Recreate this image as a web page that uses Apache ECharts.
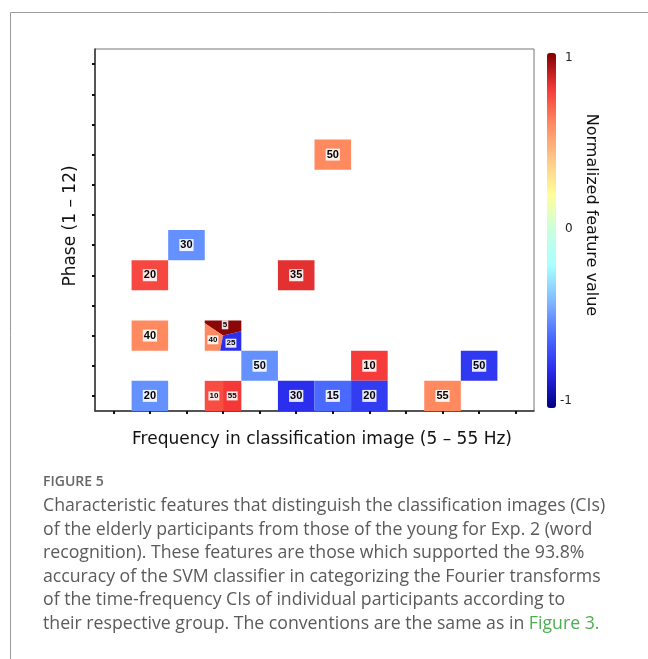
<!DOCTYPE html>
<html><head><meta charset="utf-8">
<script src="https://cdn.jsdelivr.net/npm/echarts/dist/echarts.min.js"></script>
<style>html,body{margin:0;padding:0;background:#fff}#c{width:648px;height:659px}</style>
</head><body><div id="c"></div>
<script>
// ---- data ----
const freqCats = ['1','2','3','4','5','6','7','8','9','10','11','12'];
const phaseCats = ['1','2','3','4','5','6','7','8','9','10','11','12'];
// cell positions (frequency column, phase row), 1-based
const cellCol = [7, 3, 2, 6, 2, 4, 5, 8, 11, 2, 4, 6, 7, 8, 10];
const cellRow = [9, 6, 5, 5, 3, 3, 2, 2, 2, 1, 1, 1, 1, 1, 1];
// normalized feature value for each part of each cell
const cellValues = [[0.6],[-0.5],[0.76],[0.83],[0.6],[0.98,0.6,-0.78],[-0.5],[0.79],[-0.75],[-0.5],[0.75,0.8],[-0.78],[-0.6],[-0.74],[0.6]];
const cellLabels = [['50'],['30'],['20'],['35'],['40'],['5','40','25'],['50'],['10'],['50'],['20'],['10','55'],['30'],['15'],['20'],['55']];
const colorbarTicks = ['1','0','-1'];
const captionTitle = 'FIGURE 5';
const captionLines = [
 'Characteristic features that distinguish the classification images (CIs)',
 'of the elderly participants from those of the young for Exp. 2 (word',
 'recognition). These features are those which supported the 93.8%',
 'accuracy of the SVM classifier in categorizing the Fourier transforms',
 'of the time-frequency CIs of individual participants according to',
 'their respective group. The conventions are the same as in '
];
const captionLink = 'Figure 3.';

// ---- build ----
const data = [];
cellCol.forEach((c, i) => {
  const vals = cellValues[i];
  vals.forEach((v, p) => data.push([c - 1, cellRow[i] - 1, v, cellLabels[i][p], p, vals.length]));
});

const wedges = [[13,146],[146,259],[259,373]];
function rayPt(cx, cy, hw, hh, deg) {
  const a = deg * Math.PI / 180, dx = Math.cos(a), dy = -Math.sin(a);
  const t = Math.min(Math.abs(dx) > 1e-9 ? hw / Math.abs(dx) : Infinity, Math.abs(dy) > 1e-9 ? hh / Math.abs(dy) : Infinity);
  return [cx + dx * t, cy + dy * t];
}
function wedgePoly(cx, cy, hw, hh, a0, a1) {
  const cA = Math.atan2(hh, hw) * 180 / Math.PI;
  const corners = [cA, 180 - cA, 180 + cA, 360 - cA];
  const angs = [];
  for (let k = -360; k <= 720; k += 360) corners.forEach(c => { const a = c + k; if (a > a0 && a < a1) angs.push(a); });
  angs.sort((x, y) => x - y);
  return [[cx, cy], rayPt(cx, cy, hw, hh, a0), ...angs.map(a => rayPt(cx, cy, hw, hh, a)), rayPt(cx, cy, hw, hh, a1)];
}

function renderItem(params, api) {
  const c = api.coord([api.value(0), api.value(1)]);
  const s = api.size([1, 1]);
  const w = s[0], h = s[1];
  const part = api.value(4), n = api.value(5);
  const color = api.visual('color');
  let shapeEl, lx = c[0], ly = c[1], font = 'bold 11px "Liberation Sans"';
  if (n === 1) {
    shapeEl = {type: 'rect', shape: {x: c[0] - w / 2, y: c[1] - h / 2, width: w, height: h}, style: {fill: color}};
  } else if (n === 2) {
    const x = c[0] - w / 2 + part * w / 2;
    shapeEl = {type: 'rect', shape: {x: x, y: c[1] - h / 2, width: w / 2, height: h}, style: {fill: color}};
    lx = x + w / 4; font = 'bold 8px "Liberation Sans"';
  } else {
    const [a0, a1] = wedges[part];
    shapeEl = {type: 'polygon', shape: {points: wedgePoly(c[0], c[1], w / 2, h / 2, a0, a1)}, style: {fill: color}};
    const mid = (a0 + a1) / 2 * Math.PI / 180, r = 0.3 * w;
    lx = c[0] + Math.cos(mid) * r; ly = c[1] - Math.sin(mid) * r;
    font = 'bold 8px "Liberation Sans"';
  }
  return {type: 'group', children: [shapeEl, {
    type: 'text', z2: 10,
    style: {text: api.value(3), x: lx, y: ly, align: 'center', verticalAlign: 'middle', fill: '#000', font: font,
      backgroundColor: 'rgba(255,255,255,0.88)', padding: [1, 1, 0, 1]}
  }]};
}

const chart = echarts.init(document.getElementById('c'), null, {renderer: 'canvas'});
const axisCommon = {
  type: 'category', boundaryGap: true,
  axisLabel: {show: false, interval: 0},
  axisTick: {show: true, interval: 0, alignWithLabel: true, length: 3, lineStyle: {color: '#111', width: 2}},
  axisLine: {lineStyle: {color: '#333', width: 1.5}},
  splitLine: {show: false}
};
const graphics = [
  {type: 'line', shape: {x1: 10.5, y1: 12.5, x2: 648, y2: 12.5}, style: {stroke: '#9a9a9a', lineWidth: 1}},
  {type: 'line', shape: {x1: 10.5, y1: 12.5, x2: 10.5, y2: 659}, style: {stroke: '#9a9a9a', lineWidth: 1}},
  {type: 'text', x: 322, y: 440, style: {text: 'Frequency in classification image (5 \u2013 55 Hz)', align: 'center', verticalAlign: 'middle', font: '17px "DejaVu Sans"', fill: '#111'}},
  {type: 'text', x: 71, y: 226, rotation: Math.PI / 2, style: {text: 'Phase (1 \u2013 12)', align: 'center', verticalAlign: 'middle', font: '17px "DejaVu Sans"', fill: '#111'}},
  {type: 'text', x: 591, y: 215, rotation: -Math.PI / 2, style: {text: 'Normalized feature value', align: 'center', verticalAlign: 'middle', font: '16px "DejaVu Sans"', fill: '#111'}},
  {type: 'text', x: 565, y: 58, style: {text: colorbarTicks[0], align: 'left', verticalAlign: 'middle', font: '12px "DejaVu Sans"', fill: '#222'}},
  {type: 'text', x: 565, y: 229, style: {text: colorbarTicks[1], align: 'left', verticalAlign: 'middle', font: '12px "DejaVu Sans"', fill: '#222'}},
  {type: 'text', x: 560, y: 401, style: {text: colorbarTicks[2], align: 'left', verticalAlign: 'middle', font: '12px "DejaVu Sans"', fill: '#222'}},
  {type: 'text', x: 43, y: 482, style: {text: captionTitle, align: 'left', verticalAlign: 'middle', fontSize: 14, fontWeight: 600, fontFamily: 'Open Sans', fill: '#666'}}
];
const lineY = [506, 530, 553, 577, 600, 624];
captionLines.forEach((t, i) => {
  const last = i === captionLines.length - 1;
  const st = {text: t, align: 'left', verticalAlign: 'middle', fontSize: 17.7, fontFamily: 'Open Sans', fill: '#5a5a5a'};
  if (last) {
    st.text = '{n|' + t + '}{g|' + captionLink + '}';
    st.rich = {n: {fill: '#5a5a5a', fontSize: 17.7, fontFamily: 'Open Sans'}, g: {fill: '#4caf50', fontSize: 17.7, fontFamily: 'Open Sans'}};
  }
  graphics.push({type: 'text', x: 43, y: lineY[i], style: st});
});

chart.setOption({
  animation: false,
  backgroundColor: '#fff',
  grid: {left: 95, top: 49, width: 439, height: 362, show: true, borderColor: '#777', borderWidth: 1, backgroundColor: 'transparent'},
  xAxis: Object.assign({data: freqCats}, axisCommon),
  yAxis: Object.assign({data: phaseCats}, axisCommon),
  visualMap: {
    type: 'continuous', min: -1, max: 1, dimension: 2, seriesIndex: 0, padding: 0,
    left: 547, top: 53, itemWidth: 9, itemHeight: 355, calculable: false, showLabel: false, text: null,
    inRange: {color: ['#000080','#2828eb','#4a6aff','#80b8ff','#a8ffff','#c8ffe0','#ffff99','#ffc888','#ff8a60','#f43838','#800000']}
  },
  series: [{type: 'custom', renderItem: renderItem, data: data, encode: {x: 0, y: 1}, clip: false}],
  graphic: graphics
});
</script></body></html>
